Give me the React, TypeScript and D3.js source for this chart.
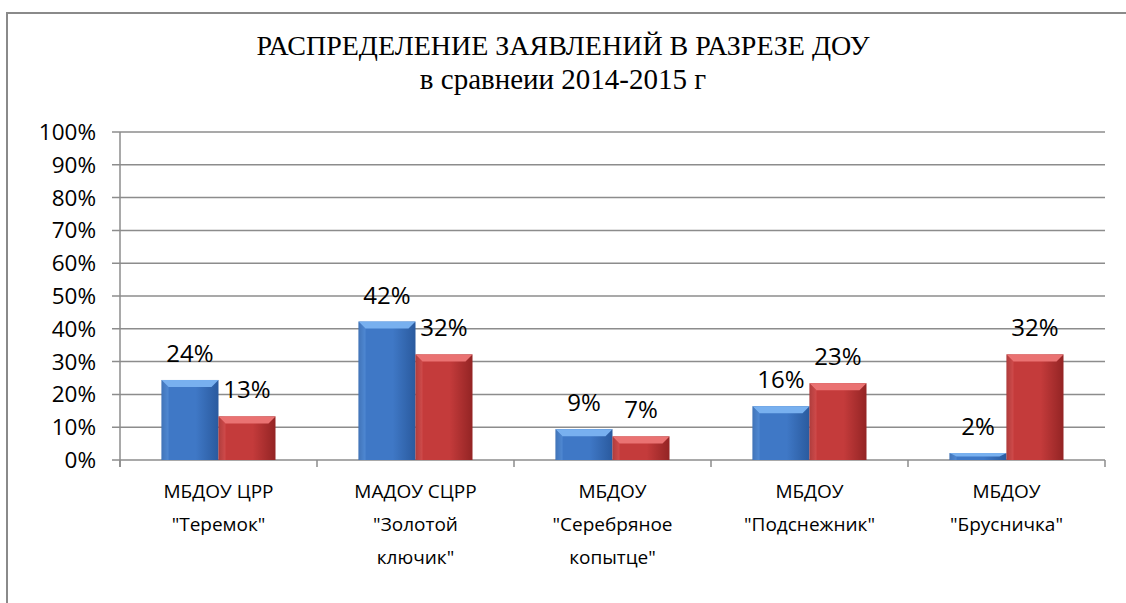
import React from "react";
import * as d3 from "d3";

const categories = [
  ["МБДОУ ЦРР", "\"Теремок\""],
  ["МАДОУ СЦРР", "\"Золотой", "ключик\""],
  ["МБДОУ", "\"Серебряное", "копытце\""],
  ["МБДОУ", "\"Подснежник\""],
  ["МБДОУ", "\"Брусничка\""],
];
const values2014 = [0.244, 0.422, 0.094, 0.164, 0.021];
const values2015 = [0.133, 0.322, 0.072, 0.234, 0.322];
const yTicks = [0, 0.1, 0.2, 0.3, 0.4, 0.5, 0.6, 0.7, 0.8, 0.9, 1.0];
const titleLines = ["РАСПРЕДЕЛЕНИЕ ЗАЯВЛЕНИЙ В РАЗРЕЗЕ ДОУ", "в сравнеии 2014-2015 г"];

const W = 1126, H = 603;
const left = 120, right = 1105, top = 132, bottom = 460;
const labelFont = "'Open Sans', 'Noto Sans', sans-serif";

export default function App() {
  const x = d3.scaleBand<number>().domain(d3.range(categories.length)).range([left, right]).paddingInner(0).paddingOuter(0);
  const y = d3.scaleLinear().domain([0, 1]).range([bottom, top]);
  const bw = 57;
  const series = [
    { vals: values2014, id: "blue", offset: -bw, light: "#6ea6ea", main: "#3f78c6", dark: "#2a5a9e", topc: "#78b0ef" },
    { vals: values2015, id: "red", offset: 0, light: "#e46a6a", main: "#c43b3b", dark: "#932424", topc: "#ea7272" },
  ];
  const fmt = d3.format(".0%");
  return (
    <svg width={W} height={H} style={{ position: "absolute", left: 0, top: 0, background: "#fff" }}>
      <defs>
        {series.map((s) => (
          <linearGradient key={s.id} id={"g-" + s.id} x1="0" x2="1" y1="0" y2="0">
            <stop offset="0" stopColor={s.dark} />
            <stop offset="0.12" stopColor={s.main} />
            <stop offset="0.6" stopColor={s.main} />
            <stop offset="1" stopColor={s.dark} />
          </linearGradient>
        ))}
      </defs>
      <rect x={7} y={13} width={W} height={H} fill="#fff" stroke="#8a8a8a" strokeWidth={2} />
      {titleLines.map((t, i) => (
        <text key={i} x={563} y={55 + i * 34} textAnchor="middle" fontFamily="'Liberation Serif', 'Times New Roman', serif" fontSize={i === 0 ? 28 : 29} fill="#000">{t}</text>
      ))}
      {yTicks.map((t) => (
        <g key={t}>
          <line x1={112} x2={right} y1={y(t)} y2={y(t)} stroke="#8c8c8c" strokeWidth={1.5} />
          <text x={96} y={y(t) + 8} textAnchor="end" fontFamily={labelFont} fontSize={22.5} fill="#000">{fmt(t)}</text>
        </g>
      ))}
      <line x1={left} x2={left} y1={top} y2={bottom + 7} stroke="#8c8c8c" strokeWidth={1.5} />
      {d3.range(categories.length + 1).map((i) => {
        const xx = i < categories.length ? x(i)! : right;
        return <line key={i} x1={xx} x2={xx} y1={bottom} y2={bottom + 7} stroke="#8c8c8c" strokeWidth={1.5} />;
      })}
      {series.map((s) =>
        s.vals.map((v, i) => {
          const cx = x(i)! + x.bandwidth() / 2 + s.offset;
          const yt = y(v);
          const h = bottom - yt;
          const bev = Math.min(7, h / 2);
          return (
            <g key={s.id + i}>
              <rect x={cx} y={yt} width={bw} height={h} fill={`url(#g-${s.id})`} />
              <polygon points={`${cx},${yt} ${cx + bw},${yt} ${cx + bw - 7},${yt + bev} ${cx + 7},${yt + bev}`} fill={s.topc} />
              <polygon points={`${cx},${yt} ${cx + 7},${yt + bev} ${cx + 7},${bottom} ${cx},${bottom}`} fill={s.light} opacity={0.35} />
              <text x={cx + bw / 2} y={yt - 18} textAnchor="middle" fontFamily={labelFont} fontSize={24} fill="#000">{fmt(v)}</text>
            </g>
          );
        })
      )}
      {categories.map((lines, i) => (
        <text key={i} textAnchor="middle" fontFamily={labelFont} fontSize={19} fill="#000">
          {lines.map((l, j) => (
            <tspan key={j} x={x(i)! + x.bandwidth() / 2} y={498 + j * 33}>{l}</tspan>
          ))}
        </text>
      ))}
    </svg>
  );
}
